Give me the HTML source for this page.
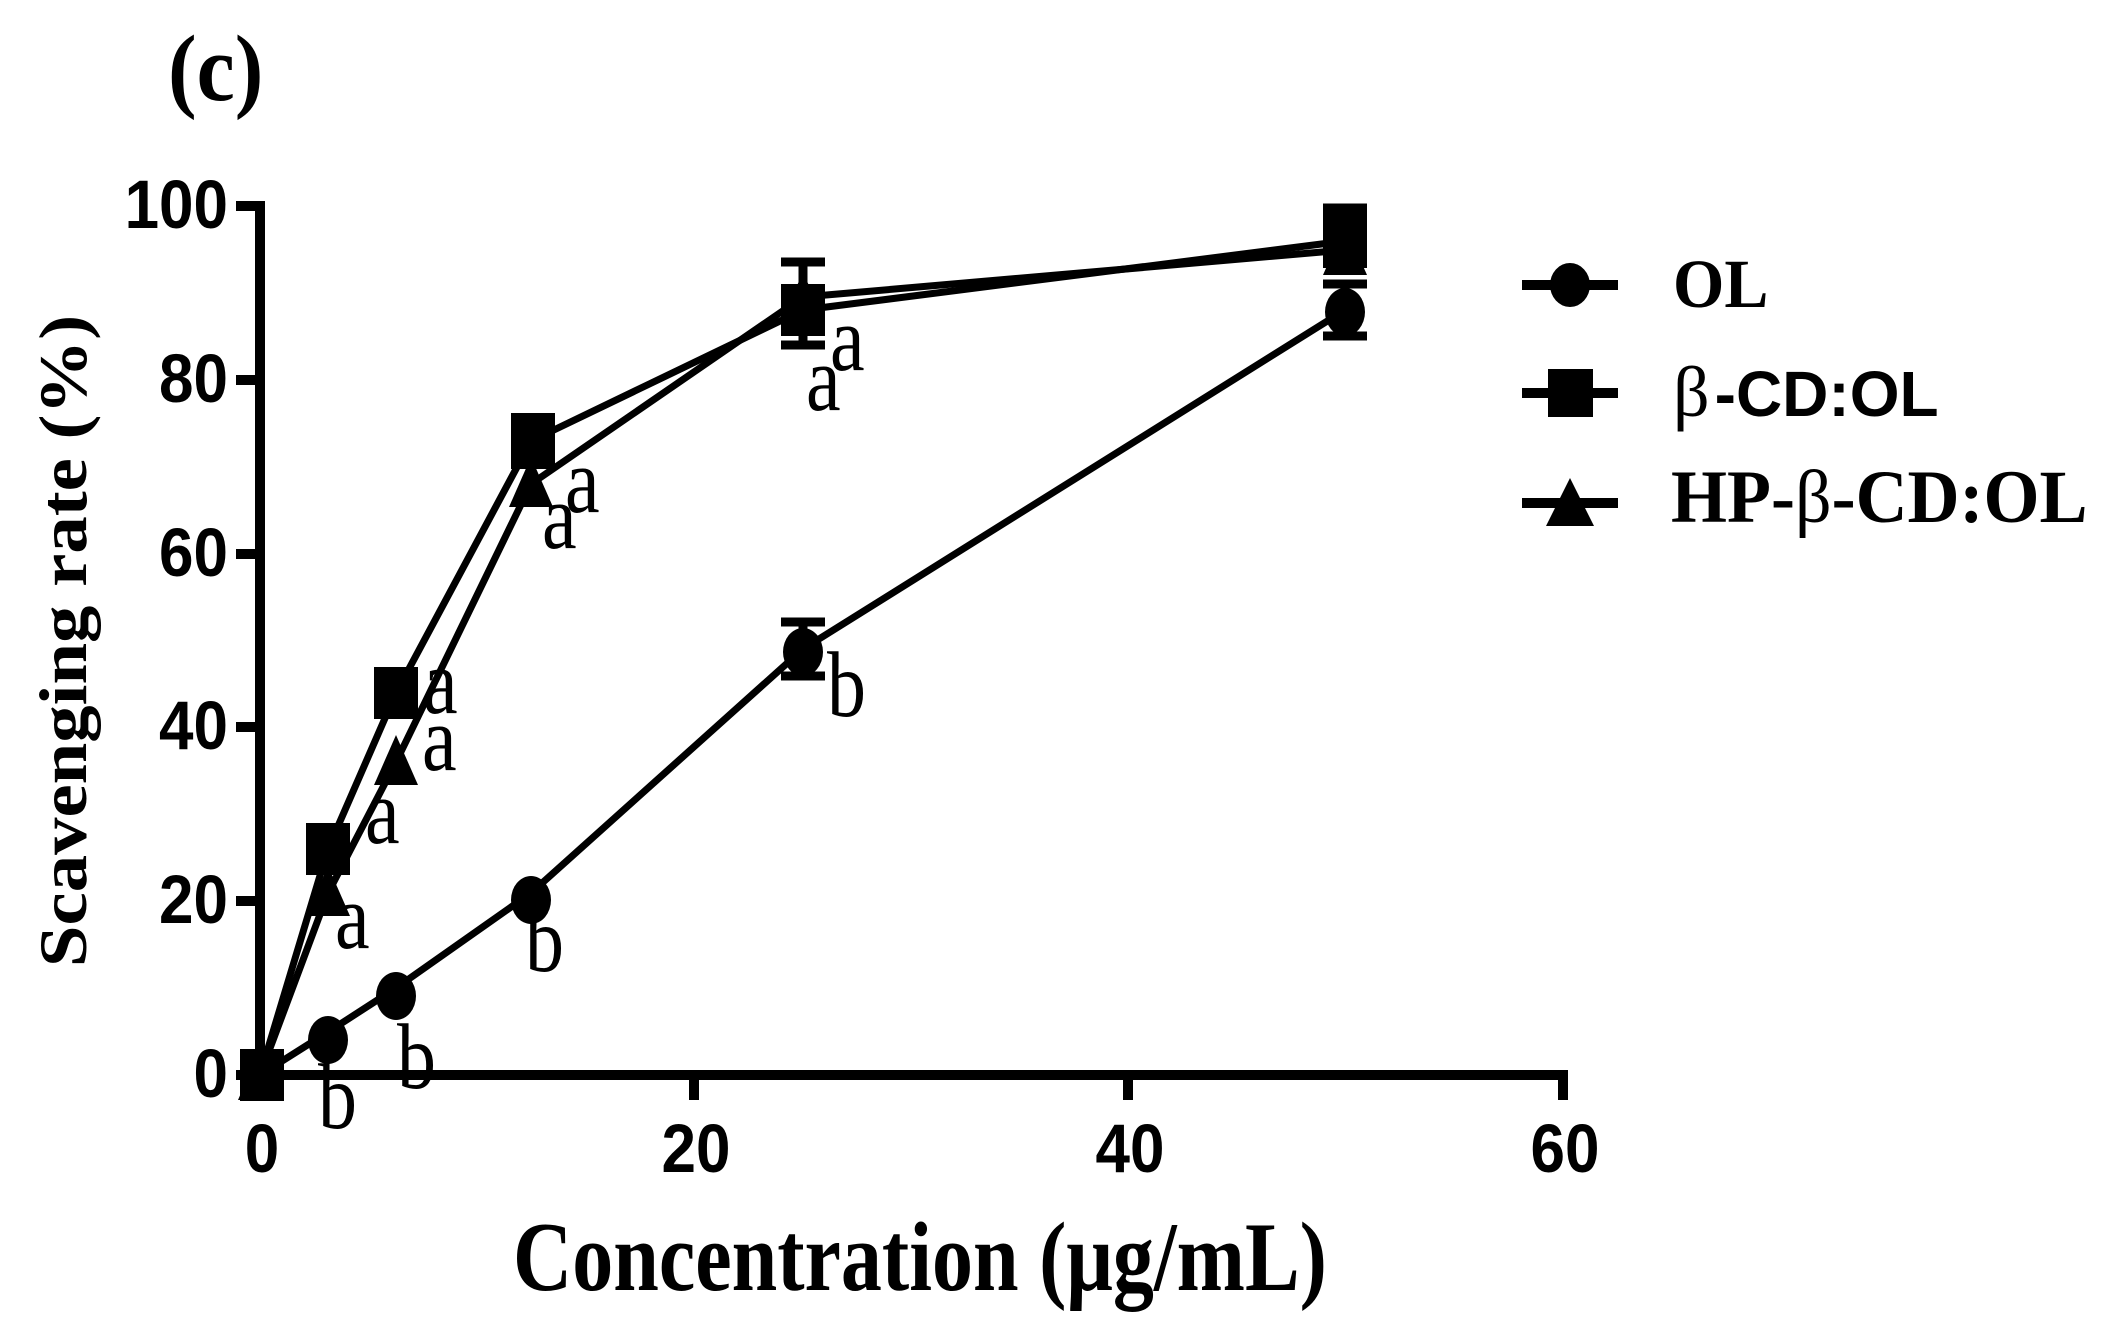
<!DOCTYPE html>
<html><head><meta charset="utf-8"><style>html,body{margin:0;padding:0;background:#fff;}svg{display:block;}</style></head>
<body>
<svg width="2128" height="1331" viewBox="0 0 2128 1331" xmlns="http://www.w3.org/2000/svg">
<g font-family="Liberation Serif, serif" font-weight="bold" fill="#000">
<text transform="translate(168,100) scale(1,1.1)" font-size="86">(c)</text>
<text transform="translate(86,641) rotate(-90) scale(1.1,1)" font-size="68" text-anchor="middle">Scavenging rate (%)</text>
<text transform="translate(920,1290) scale(1,1.2)" font-size="82" text-anchor="middle">Concentration (μg/mL)</text>
</g>
<!-- axes -->
<g stroke="#000" stroke-width="10" fill="none">
<path d="M236,206 H260 V1075 H1563 V1100"/>
<path d="M236,380 H260 M236,554 H260 M236,727 H260 M236,901 H260 M236,1075 H260"/>
<path d="M260,1075 V1100 M694,1075 V1100 M1128,1075 V1100"/>
</g>
<g font-family="Liberation Sans, sans-serif" font-weight="bold" font-size="62" fill="#000">
<g text-anchor="end">
<text transform="translate(228,228) scale(1,1.1)">100</text>
<text transform="translate(228,402) scale(1,1.1)">80</text>
<text transform="translate(228,576) scale(1,1.1)">60</text>
<text transform="translate(228,749) scale(1,1.1)">40</text>
<text transform="translate(228,923) scale(1,1.1)">20</text>
<text transform="translate(228,1097) scale(1,1.1)">0</text>
</g>
<g text-anchor="middle">
<text transform="translate(262,1172) scale(1,1.1)">0</text>
<text transform="translate(696,1172) scale(1,1.1)">20</text>
<text transform="translate(1130,1172) scale(1,1.1)">40</text>
<text transform="translate(1565,1172) scale(1,1.1)">60</text>
</g>
</g>
<!-- series lines -->
<g stroke="#000" stroke-width="7" fill="none" stroke-linejoin="round">
<polyline points="260,1075 328,1032 396,988 531,893 803,649 1345,310"/>
<polyline points="260,1075 328,849 396,693 531,441 803,310 1345,241"/>
<polyline points="260,1075 328,893 396,762 531,484 803,297 1345,250"/>
</g>
<!-- error bars -->
<g stroke="#000" stroke-width="9" fill="none">
<path d="M803,622 V676 M781,622 H825 M781,676 H825"/>
<path d="M803,262 V345 M781,262 H825 M781,345 H825"/>
<path d="M1345,208 V262 M1323,208 H1367 M1323,262 H1367"/>
<path d="M1345,284 V336 M1323,284 H1367 M1323,336 H1367"/>
</g>
<!-- markers -->
<g fill="#000">
<g>
<ellipse cx="260" cy="1075" rx="20" ry="24"/>
<ellipse cx="328" cy="1040" rx="20" ry="24"/>
<ellipse cx="396" cy="996" rx="20" ry="24"/>
<ellipse cx="531" cy="900" rx="20" ry="24"/>
<ellipse cx="803" cy="652" rx="20" ry="24"/>
<ellipse cx="1345" cy="312" rx="20" ry="24"/>
</g>
<g>
<polygon points="260,1050 282,1100 238,1100"/>
<polygon points="328,866 350,916 306,916"/>
<polygon points="396,735 418,785 374,785"/>
<polygon points="531,457 553,507 509,507"/>
<polygon points="803,272 825,322 781,322"/>
<polygon points="1345,225 1367,275 1323,275"/>
</g>
<g>
<rect x="240" y="1049" width="44" height="52"/>
<rect x="306" y="823" width="44" height="52"/>
<rect x="374" y="667" width="44" height="52"/>
<rect x="511" y="413" width="44" height="56"/>
<rect x="781" y="284" width="44" height="52"/>
<rect x="1323" y="212" width="44" height="56"/>
</g>
</g>
<!-- significance letters -->
<g font-family="Liberation Serif, serif" font-size="78" fill="#000">
<text transform="translate(830,370) scale(1,1.2)">a</text>
<text transform="translate(806,410) scale(1,1.2)">a</text>
<text transform="translate(565,512) scale(1,1.2)">a</text>
<text transform="translate(542,548) scale(1,1.2)">a</text>
<text transform="translate(423,713) scale(1,1.2)">a</text>
<text transform="translate(422,770) scale(1,1.2)">a</text>
<text transform="translate(365,843) scale(1,1.2)">a</text>
<text transform="translate(335,948) scale(1,1.2)">a</text>
<text transform="translate(827,716) scale(1,1.2)">b</text>
<text transform="translate(525,971) scale(1,1.2)">b</text>
<text transform="translate(397,1088) scale(1,1.2)">b</text>
<text transform="translate(318,1128) scale(1,1.2)">b</text>
</g>
<!-- legend -->
<g stroke="#000" stroke-width="10">
<path d="M1522,285 H1618 M1522,393 H1618 M1522,503 H1618"/>
</g>
<g fill="#000">
<ellipse cx="1570" cy="285" rx="20" ry="22"/>
<rect x="1548" y="369" width="45" height="48"/>
<polygon points="1570,478 1594,526 1546,526"/>
</g>
<g fill="#000" font-weight="bold">
<text transform="translate(1673,307) scale(1,1.05)" font-family="Liberation Serif, serif" font-size="66">OL</text>
<text transform="translate(1673,416) scale(1,1.0)"><tspan font-family="Liberation Serif, serif" font-weight="normal" font-size="72">β</tspan><tspan font-family="Liberation Sans, sans-serif" font-size="64" dx="5">-CD:OL</tspan></text>
<text transform="translate(1671,522) scale(1,1.05)" font-family="Liberation Serif, serif" font-size="72">HP-<tspan font-weight="normal">β</tspan>-CD:OL</text>
</g>
</svg>
</body></html>
